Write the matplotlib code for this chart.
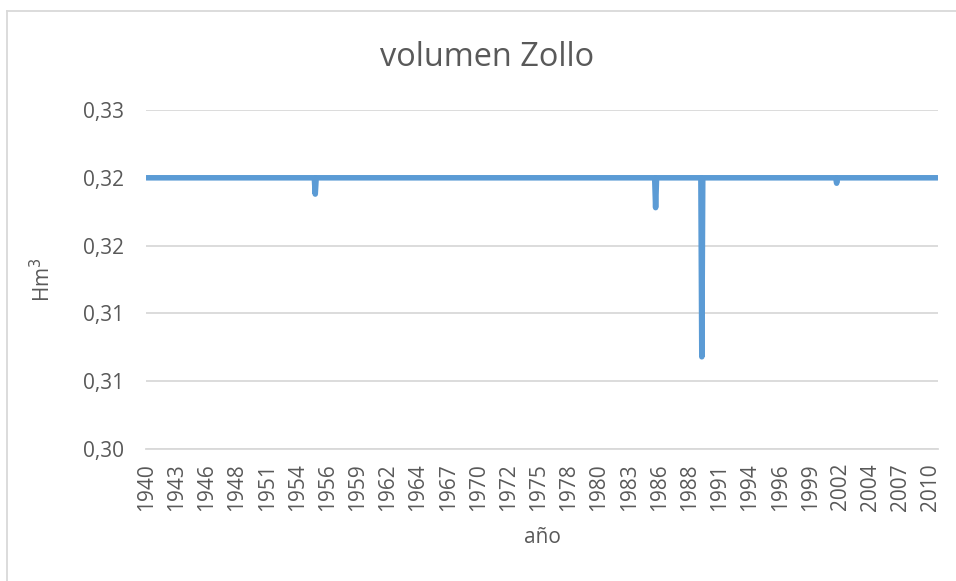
import numpy as np
import matplotlib
matplotlib.use("Agg")
import matplotlib.pyplot as plt
from matplotlib.lines import Line2D

# ---- data ----
n_months = 840                      # Oct 1940 .. Sep 2010, monthly
base_value = 0.320
dip_months = [179, 540, 589, 732]
dip_values = [0.3188, 0.3178, 0.3068, 0.3196]
xtick_every = 32
xtick_labels = ["1940", "1943", "1946", "1948", "1951", "1954", "1956", "1959",
                "1962", "1964", "1967", "1970", "1972", "1975", "1978", "1980",
                "1983", "1986", "1988", "1991", "1994", "1996", "1999", "2002",
                "2004", "2007", "2010"]
ytick_values = [0.300, 0.305, 0.310, 0.315, 0.320, 0.325]
ytick_labels = ["0,30", "0,31", "0,31", "0,32", "0,32", "0,33"]

values = np.full(n_months, base_value)
for m, v in zip(dip_months, dip_values):
    values[m] = v

plt.rcParams['font.family'] = ['Open Sans', 'DejaVu Sans']
W, H = 956, 581
fig = plt.figure(figsize=(W / 100, H / 100), dpi=100)
ax = fig.add_axes([146 / W, 1 - 449 / H, (938 - 146) / W, (449 - 110) / H])

x = np.arange(n_months)
ax.plot(x, values, color="#5B9BD5", lw=4, solid_capstyle="round",
        solid_joinstyle="round", zorder=3)

ax.set_xlim(-0.5, n_months - 0.5)
ax.set_ylim(0.300, 0.325)
ax.set_yticks(ytick_values)
ax.set_yticklabels(ytick_labels)
ax.set_xticks(np.arange(len(xtick_labels)) * xtick_every)
ax.set_xticklabels(xtick_labels, rotation=90)

for s in ["top", "right", "left"]:
    ax.spines[s].set_visible(False)
ax.spines["bottom"].set_color("#d9d9d9")
ax.spines["bottom"].set_linewidth(1.3)
ax.grid(axis="y", color="#d9d9d9", lw=1.3)
ax.set_axisbelow(True)
ax.tick_params(axis="both", length=0, colors="#595959", labelsize=15)
ax.tick_params(axis="y", pad=16)
ax.tick_params(axis="x", pad=10)

fig.text(487 / W, 1 - 57 / H, "volumen Zollo", fontsize=23.4, color="#595959",
         ha="center", va="center")
ax.set_xlabel("año", fontsize=15, color="#595959", labelpad=12)
ax.set_ylabel("Hm$^3$", fontsize=15, color="#595959", labelpad=20)

fig.add_artist(Line2D([7 / W, 7 / W], [0, 1 - 11 / H], transform=fig.transFigure,
                      color="#d9d9d9", lw=1.3))
fig.add_artist(Line2D([7 / W, 1], [1 - 11 / H, 1 - 11 / H], transform=fig.transFigure,
                      color="#d9d9d9", lw=1.3))

fig.savefig("out.png", dpi=100)
